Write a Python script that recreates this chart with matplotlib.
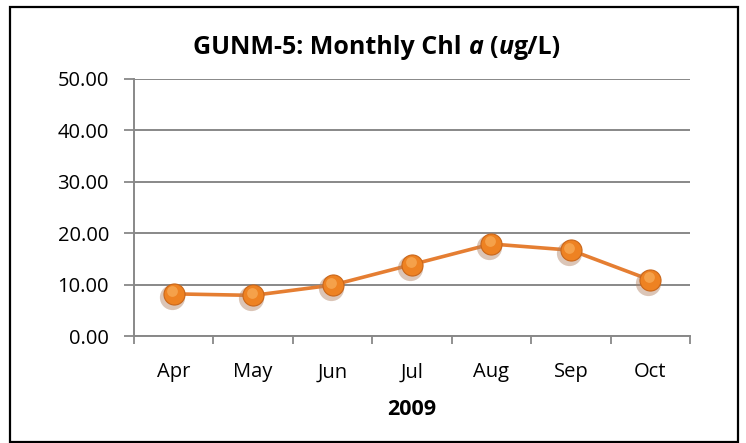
import matplotlib
matplotlib.use("Agg")
import matplotlib.pyplot as plt
import matplotlib.transforms as mtransforms
from matplotlib.patches import Rectangle

# data
months = ["Apr", "May", "Jun", "Jul", "Aug", "Sep", "Oct"]
chl_a = [8.2, 7.9, 9.9, 13.9, 17.9, 16.7, 10.9]
y_ticks = [0, 10, 20, 30, 40, 50]
year_label = "2009"

FONT = ['Open Sans', 'DejaVu Sans']
plt.rcParams['font.family'] = FONT

fig = plt.figure(figsize=(7.46, 4.43), dpi=100)
ax = fig.add_axes([134 / 746, 1 - 336 / 443, (690 - 134) / 746, (336 - 79) / 443])

x = list(range(len(months)))

# line
ax.plot(x, chl_a, color='#E57E32', lw=2.6, zorder=3, solid_capstyle='round')

# marker shadow, ball, highlight
shadow = mtransforms.offset_copy(ax.transData, fig=fig, x=-2, y=-3, units='dots')
ax.scatter(x, chl_a, s=330, color='#B08060', alpha=0.45, lw=0, transform=shadow, zorder=4)
ax.scatter(x, chl_a, s=230, color='#EE8222', edgecolor='#C9661A', lw=0.8, zorder=5)
hl = mtransforms.offset_copy(ax.transData, fig=fig, x=-1.5, y=2.5, units='dots')
ax.scatter(x, chl_a, s=60, color='#F7AA55', lw=0, alpha=0.8, transform=hl, zorder=6)

ax.set_xlim(-0.5, len(months) - 0.5)
ax.set_ylim(0, 50)

# category boundaries get tick marks, centres get labels
ax.set_xticks([i - 0.5 for i in range(len(months) + 1)])
ax.set_xticklabels([])
ax.set_xticks(x, minor=True)
ax.set_xticklabels(months, minor=True)
ax.tick_params(axis='x', which='major', length=6, width=1.3, color='#888888', direction='out')
ax.tick_params(axis='x', which='minor', length=0, pad=19, labelsize=14.5)

ax.set_yticks(y_ticks)
ax.set_yticklabels([f"{v:.2f}" for v in y_ticks])
ax.tick_params(axis='y', length=7, width=1.3, color='#888888', direction='out', pad=11, labelsize=14.5)

ax.grid(axis='y', color='#888888', lw=1.4)
ax.set_axisbelow(True)
for side in ['top', 'right']:
    ax.spines[side].set_visible(False)
for side in ['left', 'bottom']:
    ax.spines[side].set_color('#888888')
    ax.spines[side].set_linewidth(1.4)

ax.set_xlabel(year_label, fontsize=15.5, fontweight='bold', labelpad=12)

# title in pieces so that "a" and "u" can be bold italic
pieces = [("GUNM-5: Monthly Chl ", 'normal'), ("a", 'italic'), (" (", 'normal'),
          ("u", 'italic'), ("g/L)", 'normal')]
title_size = 18
fig.canvas.draw()
renderer = fig.canvas.get_renderer()


def text_width(s, style):
    t = fig.text(0, 0, s, fontsize=title_size, fontweight='bold', style=style)
    w = t.get_window_extent(renderer).width
    t.remove()
    return w


space = text_width("x x", 'normal') - text_width("xx", 'normal')
widths = []
for s, style in pieces:
    core = s.strip()
    w = text_width(core, style)
    w += space * (len(s) - len(s.lstrip())) + space * (len(s) - len(s.rstrip()))
    widths.append(w)
total = sum(widths)
cx, cy = 377, 48
xpos = cx - total / 2
for (s, style), w in zip(pieces, widths):
    lead = space * (len(s) - len(s.lstrip()))
    fig.text((xpos + lead) / 746, 1 - cy / 443, s.strip(), fontsize=title_size, fontweight='bold',
             style=style, ha='left', va='center')
    xpos += w

# outer chart border
fig.patches.append(Rectangle((10 / 746, 1 - 442 / 443), 728 / 746, 435 / 443,
                             transform=fig.transFigure, fill=False,
                             edgecolor='black', lw=1.6))

fig.savefig("out.png", dpi=100)
